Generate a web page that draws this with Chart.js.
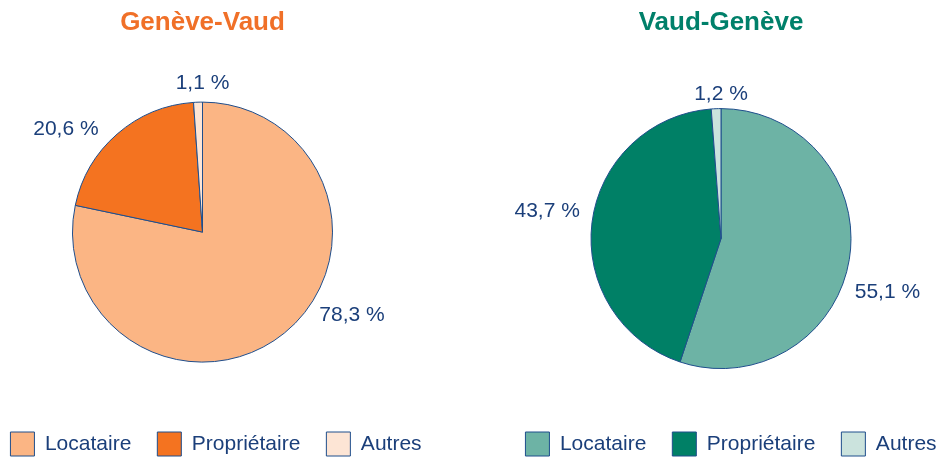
<!DOCTYPE html>
<html>
<head>
<meta charset="utf-8">
<script src="https://cdn.jsdelivr.net/npm/chart.js@4"></script>
<style>
  html, body { margin: 0; padding: 0; background: #fff; }
  body { width: 950px; height: 459px; overflow: hidden; position: relative; }
  canvas { position: absolute; top: 0; }
  #gv { left: -33px; }
  #vg { left: 486px; }
</style>
</head>
<body>
<canvas id="gv" width="471" height="466"></canvas>
<canvas id="vg" width="470" height="466"></canvas>
<script>
// données
const categories = ['Locataire', 'Propriétaire', 'Autres'];
const geneveVaud = [78.3, 20.6, 1.1];
const vaudGeneve = [55.1, 43.7, 1.2];

const navy = '#1b3f7a';
const edge = '#1f4e8c';
Chart.defaults.font.family = '"Liberation Sans", Arial, sans-serif';

// étiquettes des pourcentages autour du camembert
const sliceLabels = {
  id: 'sliceLabels',
  afterDatasetsDraw(chart, args, opts) {
    const ctx = chart.ctx;
    const meta = chart.getDatasetMeta(0);
    const values = chart.data.datasets[0].data;
    ctx.save();
    ctx.font = '21px "Liberation Sans", Arial, sans-serif';
    ctx.fillStyle = navy;
    ctx.textAlign = 'center';
    ctx.textBaseline = 'middle';
    meta.data.forEach(function (arc, i) {
      let pos = opts.positions[i];
      let a = pos[0] * Math.PI / 180;
      let x = arc.x + Math.sin(a) * pos[1];
      let y = arc.y - Math.cos(a) * pos[1];
      ctx.fillText(values[i].toFixed(1).replace('.', ',') + ' %', x, y);
    });
    ctx.restore();
  }
};

// décale la légende par rapport au camembert
const legendShift = {
  id: 'legendShift',
  afterLayout(chart, args, opts) {
    chart.legend.left += opts.dx;
    chart.legend.right += opts.dx;
  }
};

let makePie = function (id, title, titleColor, values, colors, gap, dx, positions) {
  return new Chart(document.getElementById(id), {
    type: 'pie',
    data: {
      labels: categories,
      datasets: [{
        data: values,
        backgroundColor: colors,
        borderColor: edge,
        borderWidth: 1,
        radius: 130
      }]
    },
    options: {
      responsive: false,
      animation: false,
      events: [],
      plugins: {
        title: {
          display: true,
          text: title,
          color: titleColor,
          font: { size: 26, weight: 'bold' },
          padding: { top: 7, bottom: gap }
        },
        legend: {
          position: 'bottom',
          labels: {
            boxWidth: 24,
            boxHeight: 24,
            padding: 26,
            color: navy,
            font: { size: 21 }
          }
        },
        tooltip: { enabled: false },
        legendShift: { dx: dx },
        sliceLabels: { positions: positions }
      }
    },
    plugins: [sliceLabels, legendShift]
  });
}

makePie('gv', 'Genève-Vaud', '#f07028', geneveVaud,
  ['#fbb584', '#f47320', '#fde5d5'], 20, 13.5,
  [[119, 171], [307, 171], [0, 149]]);

makePie('vg', 'Vaud-Genève', '#00806a', vaudGeneve,
  ['#6db3a5', '#008066', '#cbe3dd'], 33, 10,
  [[108, 175], [279, 176], [0, 144.5]]);
</script>
</body>
</html>
